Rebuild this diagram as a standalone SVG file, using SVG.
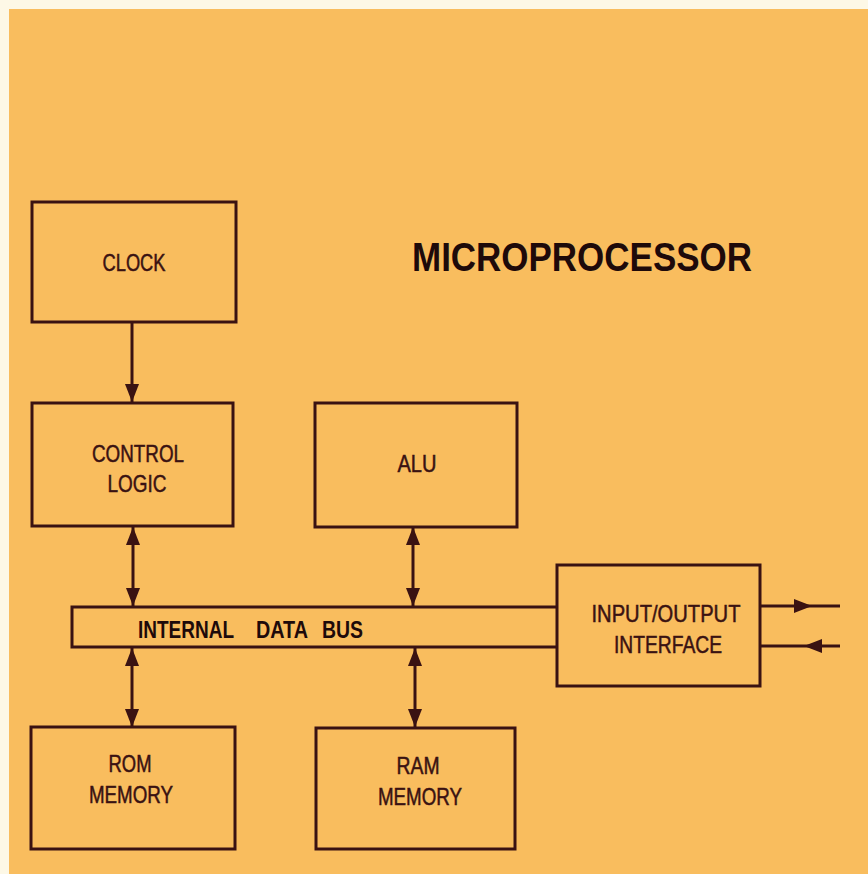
<svg xmlns="http://www.w3.org/2000/svg" width="868" height="874" viewBox="0 0 868 874">
<defs>
<marker id="ah" viewBox="0 0 18 14" refX="18" refY="7" markerWidth="18" markerHeight="14" markerUnits="userSpaceOnUse" orient="auto-start-reverse">
<path d="M0,0 L18,7 L0,14 Z" fill="#3a1212"/>
</marker>
<style>
.box{fill:none;stroke:#3a1212;stroke-width:3}
.ln{fill:none;stroke:#3a1212;stroke-width:3}
.lbl{font-family:"Liberation Sans",Arial,sans-serif;font-size:24px;fill:#3a1212;stroke:#3a1212;stroke-width:0.5;text-anchor:middle}
.bold{font-family:"Liberation Sans",Arial,sans-serif;font-weight:bold;fill:#1e0a0a}
</style>
</defs>
<rect width="868" height="874" fill="#fdf8e6"/>
<rect x="9" y="9" width="859" height="865" fill="#f9bd5e"/>
<text class="bold" x="412" y="271" font-size="41" textLength="340" lengthAdjust="spacingAndGlyphs">MICROPROCESSOR</text>
<g id="connectors">
<line class="ln" x1="132" y1="322" x2="132" y2="402" marker-end="url(#ah)"/>
<line class="ln" x1="133" y1="527" x2="133" y2="606" marker-start="url(#ah)" marker-end="url(#ah)"/>
<line class="ln" x1="413" y1="527" x2="413" y2="606" marker-start="url(#ah)" marker-end="url(#ah)"/>
<line class="ln" x1="132" y1="648" x2="132" y2="727" marker-start="url(#ah)" marker-end="url(#ah)"/>
<line class="ln" x1="415" y1="648" x2="415" y2="727" marker-start="url(#ah)" marker-end="url(#ah)"/>
<line class="ln" x1="760" y1="606" x2="840" y2="606"/>
<path d="M794,599 L812,606 L794,613 Z" fill="#3a1212"/>
<line class="ln" x1="760" y1="646" x2="840" y2="646"/>
<path d="M822,639 L804,646 L822,653 Z" fill="#3a1212"/>
</g>
<g id="bus">
<path class="box" d="M557,607 L72,607 L72,647 L557,647"/>
<text class="bold" x="138" y="638" font-size="24" textLength="96" lengthAdjust="spacingAndGlyphs">INTERNAL</text>
<text class="bold" x="256" y="638" font-size="24" textLength="52" lengthAdjust="spacingAndGlyphs">DATA</text>
<text class="bold" x="322" y="638" font-size="24" textLength="41" lengthAdjust="spacingAndGlyphs">BUS</text>
</g>
<g id="clock">
<rect class="box" x="32" y="202" width="204" height="120"/>
<text class="lbl" x="134" y="271" textLength="63" lengthAdjust="spacingAndGlyphs">CLOCK</text>
</g>
<g id="control">
<rect class="box" x="32" y="403" width="201" height="123"/>
<text class="lbl" x="138" y="462" textLength="92" lengthAdjust="spacingAndGlyphs">CONTROL</text>
<text class="lbl" x="137" y="492" textLength="59" lengthAdjust="spacingAndGlyphs">LOGIC</text>
</g>
<g id="alu">
<rect class="box" x="315" y="403" width="202" height="124"/>
<text class="lbl" x="417" y="472" textLength="39" lengthAdjust="spacingAndGlyphs">ALU</text>
</g>
<g id="io">
<rect class="box" x="557" y="565" width="203" height="121"/>
<text class="lbl" x="666" y="622" textLength="149" lengthAdjust="spacingAndGlyphs">INPUT/OUTPUT</text>
<text class="lbl" x="668" y="653" textLength="108" lengthAdjust="spacingAndGlyphs">INTERFACE</text>
</g>
<g id="rom">
<rect class="box" x="31" y="727" width="204" height="122"/>
<text class="lbl" x="130" y="772" textLength="43" lengthAdjust="spacingAndGlyphs">ROM</text>
<text class="lbl" x="131" y="803" textLength="84" lengthAdjust="spacingAndGlyphs">MEMORY</text>
</g>
<g id="ram">
<rect class="box" x="316" y="728" width="199" height="121"/>
<text class="lbl" x="418" y="774" textLength="43" lengthAdjust="spacingAndGlyphs">RAM</text>
<text class="lbl" x="420" y="805" textLength="84" lengthAdjust="spacingAndGlyphs">MEMORY</text>
</g>
</svg>
